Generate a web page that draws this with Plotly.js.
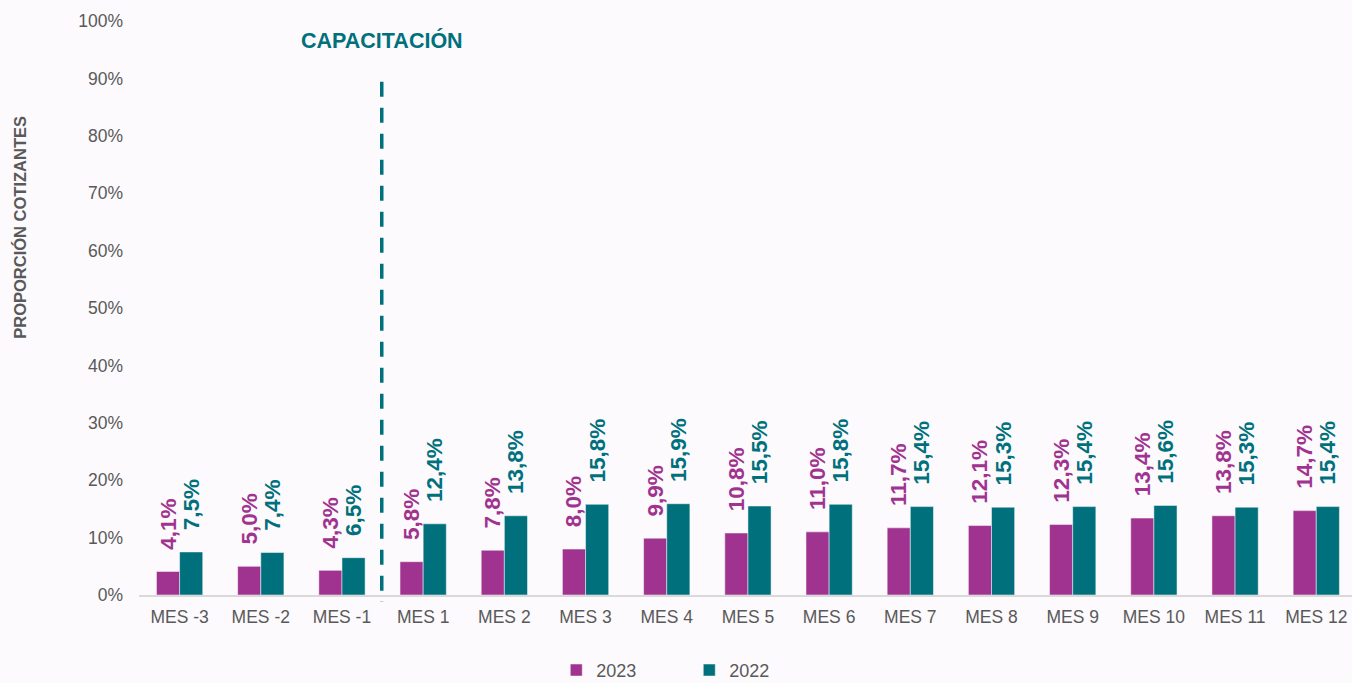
<!DOCTYPE html>
<html>
<head>
<meta charset="utf-8">
<script src="https://cdn.plot.ly/plotly-3.0.1.min.js"></script>
<style>html,body{margin:0;padding:0;background:#FCFAFD;}</style>
</head>
<body>
<div id="chart" style="width:1352px;height:683px;"></div>
<script>
const categories = ["MES -3","MES -2","MES -1","MES 1","MES 2","MES 3","MES 4","MES 5","MES 6","MES 7","MES 8","MES 9","MES 10","MES 11","MES 12"];
const values2023 = [4.1, 5.0, 4.3, 5.8, 7.8, 8.0, 9.9, 10.8, 11.0, 11.7, 12.1, 12.3, 13.4, 13.8, 14.7];
const values2022 = [7.5, 7.4, 6.5, 12.4, 13.8, 15.8, 15.9, 15.5, 15.8, 15.4, 15.3, 15.4, 15.6, 15.3, 15.4];
const seriesNames = ["2023", "2022"];

const magenta = "#A0338F";
const teal = "#00717C";
const NB = "\u00A0";
const fmt = v => NB + NB + NB + v.toFixed(1).replace(".", ",") + "%";

function barTrace(name, vals, color) {
  return {
    type: "bar",
    name: name,
    x: categories,
    y: vals.map(v => v / 100),
    marker: {color: color, line: {color: "#FCFAFD", width: 0.5}},
    text: vals.map(fmt),
    textposition: "outside",
    textangle: -90,
    textfont: {family: "Liberation Sans, Arial, sans-serif", size: 22.5, color: color, weight: "bold"},
    cliponaxis: false,
    hoverinfo: "x+y"
  };
}

const data = [
  barTrace(seriesNames[0], values2023, magenta),
  barTrace(seriesNames[1], values2022, teal)
];

const layout = {
  width: 1352, height: 683,
  paper_bgcolor: "#FCFAFD",
  plot_bgcolor: "#FCFAFD",
  font: {family: "Liberation Sans, Arial, sans-serif", size: 17.5, color: "#595959"},
  margin: {l: 139, r: 0, t: 21, b: 88, autoexpand: false},
  barmode: "group",
  bargap: 0.43,
  bargroupgap: 0,
  separators: ",.",
  uniformtext: {minsize: 22.5, mode: "show"},
  xaxis: {
    type: "category",
    range: [-0.5, 14.44],
    showline: true, linecolor: "#D9D9D9", linewidth: 2,
    ticks: "", showgrid: false, zeroline: false,
    ticklabelstandoff: 5,
    tickfont: {size: 17.5, color: "#595959"}
  },
  yaxis: {
    range: [0, 1],
    dtick: 0.1,
    tickformat: ".0%",
    showgrid: false, zeroline: false, showline: false,
    ticks: "",
    ticklabelstandoff: 15,
    tickfont: {size: 17.5, color: "#595959"}
  },
  legend: {
    orientation: "h",
    x: 0.344, xanchor: "left",
    y: -0.099, yanchor: "top",
    font: {size: 18, color: "#595959"},
    entrywidth: 88,
    itemwidth: 30,
    bgcolor: "rgba(0,0,0,0)"
  },
  shapes: [{
    type: "line", xref: "x", yref: "paper",
    x0: 2.49, x1: 2.49, y0: 0.894, y1: -0.012,
    line: {color: teal, width: 3.5, dash: "15px,11px"}
  }],
  annotations: [
    {
      text: "<b>CAPACITACIÓN</b>",
      xref: "x", yref: "paper", x: 2.49, y: 0.966,
      showarrow: false, xanchor: "center", yanchor: "middle",
      font: {size: 21.5, color: teal}
    },
    {
      text: "<b>PROPORCIÓN COTIZANTES</b>",
      xref: "paper", yref: "paper", x: -0.098, y: 0.64,
      showarrow: false, textangle: -90, xanchor: "center", yanchor: "middle",
      font: {size: 16.5, color: "#595959"}
    }
  ]
};

Plotly.newPlot("chart", data, layout, {displayModeBar: false, staticPlot: true});
</script>
</body>
</html>
